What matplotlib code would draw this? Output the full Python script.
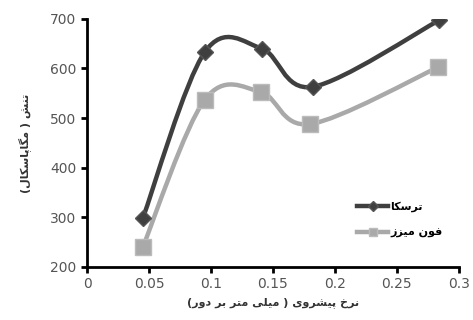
import matplotlib
matplotlib.use("Agg")
import matplotlib.pyplot as plt
from matplotlib.path import Path
from matplotlib.patches import PathPatch
from matplotlib.lines import Line2D

# داده‌ها (خوانده شده از نمودار)
feed = [0.045, 0.095, 0.141, 0.182, 0.284]
tresca = [298, 633, 640, 563, 697]
feed_vm = [0.045, 0.095, 0.140, 0.180, 0.283]
von_mises = [240, 537, 553, 488, 602]

xlabel = "نرخ پیشروی ( میلی متر بر دور)"
ylabel = "تنش ( مگاپاسکال)"
names = ["ترسکا", "فون میزز"]
xticks = [0, 0.05, 0.1, 0.15, 0.2, 0.25, 0.3]
yticks = [200, 300, 400, 500, 600, 700]

# شکل‌دهی ساده حروف فارسی (matplotlib خودش این کار را نمی‌کند)
FORMS = {
    "ت": (0xFE95, 0xFE96, 0xFE97, 0xFE98), "ن": (0xFEE5, 0xFEE6, 0xFEE7, 0xFEE8),
    "ش": (0xFEB5, 0xFEB6, 0xFEB7, 0xFEB8), "م": (0xFEE1, 0xFEE2, 0xFEE3, 0xFEE4),
    "گ": (0xFB92, 0xFB93, 0xFB94, 0xFB95), "پ": (0xFB56, 0xFB57, 0xFB58, 0xFB59),
    "س": (0xFEB1, 0xFEB2, 0xFEB3, 0xFEB4), "ک": (0xFB8E, 0xFB8F, 0xFB90, 0xFB91),
    "ل": (0xFEDD, 0xFEDE, 0xFEDF, 0xFEE0), "خ": (0xFEA5, 0xFEA6, 0xFEA7, 0xFEA8),
    "ی": (0xFBFC, 0xFBFD, 0xFBFE, 0xFBFF), "ب": (0xFE8F, 0xFE90, 0xFE91, 0xFE92),
    "ف": (0xFED1, 0xFED2, 0xFED3, 0xFED4),
    "ا": (0xFE8D, 0xFE8E), "ر": (0xFEAD, 0xFEAE), "و": (0xFEED, 0xFEEE),
    "ز": (0xFEAF, 0xFEB0), "د": (0xFEA9, 0xFEAA),
}


def shape(s):
    out = []
    for i, c in enumerate(s):
        if c not in FORMS:
            out.append({"(": ")", ")": "("}.get(c, c))
            continue
        f = FORMS[c]
        prev = s[i - 1] if i > 0 else ""
        nxt = s[i + 1] if i + 1 < len(s) else ""
        jp = prev in FORMS and len(FORMS[prev]) == 4
        jn = len(f) == 4 and nxt in FORMS
        if jp and jn:
            k = 3
        elif jp:
            k = 1
        elif jn:
            k = 2
        else:
            k = 0
        out.append(chr(f[k]))
    return "".join(reversed(out))


def smooth(xs, ys):
    # منحنی نرم شبیه اکسل (بزیه با مماس کتمول-رام)
    p = list(zip(xs, ys))
    p = [p[0]] + p + [p[-1]]
    verts = [p[1]]
    codes = [Path.MOVETO]
    for i in range(1, len(p) - 2):
        c1 = (p[i][0] + (p[i + 1][0] - p[i - 1][0]) / 6, p[i][1] + (p[i + 1][1] - p[i - 1][1]) / 6)
        c2 = (p[i + 1][0] - (p[i + 2][0] - p[i][0]) / 6, p[i + 1][1] - (p[i + 2][1] - p[i][1]) / 6)
        verts += [c1, c2, p[i + 1]]
        codes += [Path.CURVE4] * 3
    return Path(verts, codes)


plt.rcParams["font.family"] = ["DejaVu Sans"]
fig = plt.figure(figsize=(4.73, 3.2), dpi=100)
ax = fig.add_axes([0.184, 0.166, 0.786, 0.775])

dark = "#3f3f3f"
light = "#a9a9a9"
ax.add_patch(PathPatch(smooth(feed, tresca), fill=False, edgecolor=dark, lw=3.2, zorder=2))
ax.add_patch(PathPatch(smooth(feed_vm, von_mises), fill=False, edgecolor=light, lw=3.2, zorder=2))
ax.plot(feed, tresca, ls="none", marker="D", ms=8.5, color=dark, mec="#555555", zorder=3)
ax.plot(feed_vm, von_mises, ls="none", marker="s", ms=11, color=light, mec="#bbbbbb", zorder=3)

ax.set_xlim(0, 0.3)
ax.set_ylim(200, 700)
ax.set_xticks(xticks)
ax.set_xticklabels([f"{t:g}" for t in xticks])
ax.set_yticks(yticks)
for s in ["top", "right"]:
    ax.spines[s].set_visible(False)
for s in ["left", "bottom"]:
    ax.spines[s].set_linewidth(2)
ax.tick_params(axis="both", width=2, length=4, colors="black", labelcolor="#555555",
               labelsize=10, direction="out")

ax.set_xlabel(shape(xlabel), fontsize=8, fontweight="bold", color="#333333", labelpad=4)
ax.set_ylabel(shape(ylabel), fontsize=8, fontweight="bold", color="#333333", labelpad=14)

handles = [
    Line2D([], [], color=dark, lw=3.2, marker="D", ms=5, mec="#555555"),
    Line2D([], [], color=light, lw=3.2, marker="s", ms=6, mec="#bbbbbb"),
]
ax.legend(handles, [shape(n) for n in names], loc="center left", bbox_to_anchor=(0.7, 0.19),
          frameon=False, handlelength=2.8, handletextpad=0.2, labelspacing=1.4,
          prop={"size": 8, "weight": "bold"})

fig.savefig("out.png", dpi=100)
